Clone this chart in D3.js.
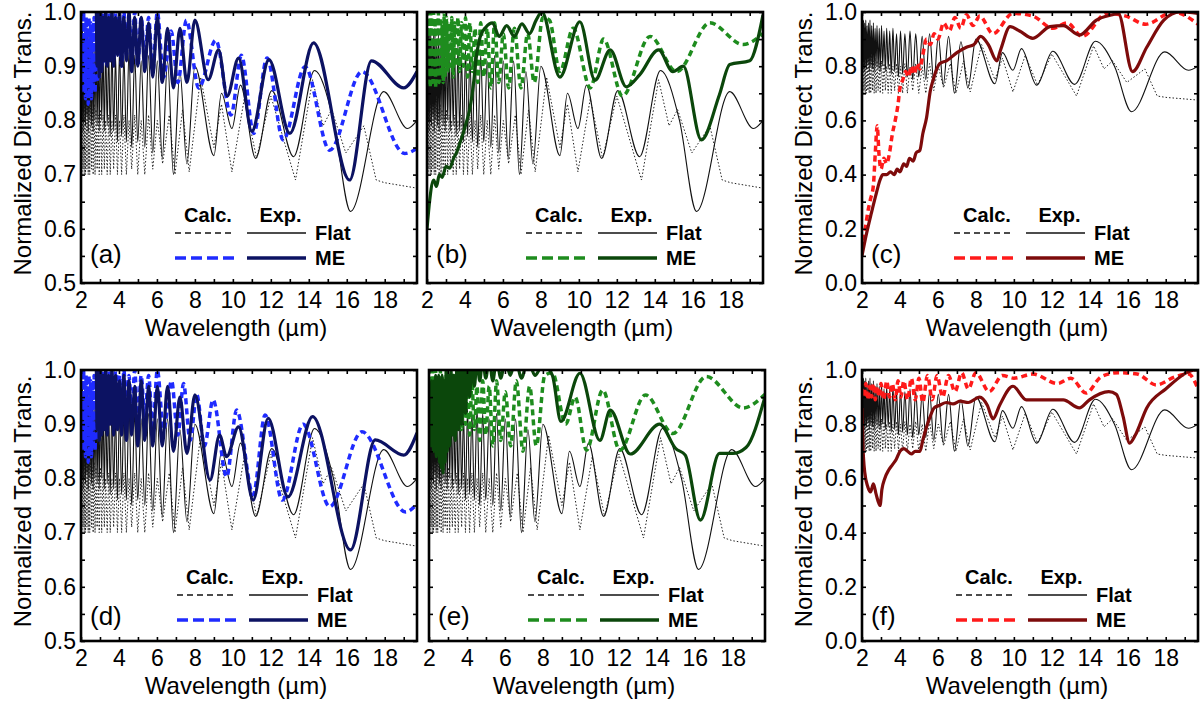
<!DOCTYPE html>
<html><head><meta charset="utf-8">
<script src="https://cdn.jsdelivr.net/npm/d3@7"></script>
<style>
body{margin:0;background:#fff;}
svg{display:block;font-family:Arial,"Liberation Sans",sans-serif;}
</style>
</head><body><svg id="c" width="1202" height="704"></svg>
<script>
// ---------------- DATA ----------------
const xTickLabels = [2,4,6,8,10,12,14,16,18];
const xTicks = [2,3,4,5,6,7,8,9,10,11,12,13,14,15,16,17,18,19];
const yLabelsHalf = [0.5,0.6,0.7,0.8,0.9,1.0];
const yTicksHalf = [0.5,0.55,0.6,0.65,0.7,0.75,0.8,0.85,0.9,0.95,1.0];
const yLabelsFull = [0,0.2,0.4,0.6,0.8,1.0];
const yTicksFull = [0,0.1,0.2,0.3,0.4,0.5,0.6,0.7,0.8,0.9,1.0];

// wavelengths (µm) of the interference fringe extrema read in the 2–8 µm region
const fringeL = [2.02,2.05,2.08,2.11,2.14,2.17,2.20,2.24,2.27,2.31,2.35,2.38,2.42,2.46,2.51,2.55,2.60,2.64,2.69,2.74,
  2.79,2.85,2.91,2.96,3.03,3.09,3.16,3.23,3.30,3.38,3.46,3.54,3.63,3.72,3.82,3.92,4.03,4.14,4.26,4.39,
  4.53,4.67,4.83,4.99,5.17,5.36,5.56,5.78,6.02,6.28,6.56,6.87,7.21,7.58,8.00];

// Flat, experiment (black solid) – shared by all panels
const flatExpHead = [[2.0,0.90]];
const flatExpFringe = [0.98,0.80,0.97,0.78,0.96,0.80,0.97,0.79,0.95,0.81,
  0.96,0.78,0.97,0.80,0.95,0.79,0.96,0.78,0.94,0.80,
  0.95,0.79,0.94,0.78,0.95,0.80,0.93,0.78,0.94,0.79,
  0.93,0.77,0.94,0.78,0.92,0.76,0.93,0.77,0.92,0.76,
  0.93,0.75,0.92,0.76,0.91,0.75,0.92,0.74,0.91,0.73,
  0.91,0.70,0.89,0.72,0.90];
const flatExpTail = [[9.0,0.735],[9.4,0.85],[9.95,0.785],[10.4,0.865],[11.2,0.73],[12.05,0.855],[13.2,0.733],
  [14.3,0.892],[15.3,0.80],[16.2,0.632],[17.95,0.853],[19.2,0.785],[19.7,0.80]];

// Flat, calculation (black dotted) – shared by all panels
const flatCalcHead = [[2.0,0.80]];
const flatCalcFringe = [0.86,0.70,0.85,0.71,0.86,0.70,0.84,0.70,0.85,0.71,
  0.84,0.70,0.83,0.70,0.84,0.71,0.82,0.70,0.83,0.70,
  0.82,0.71,0.81,0.70,0.82,0.70,0.81,0.71,0.80,0.70,
  0.81,0.70,0.80,0.71,0.81,0.70,0.80,0.70,0.81,0.70,
  0.80,0.71,0.81,0.70,0.80,0.70,0.81,0.71,0.80];
const flatCalcTail = [[6.3,0.72],[6.65,0.81],[6.95,0.70],[7.35,0.82],[7.7,0.705],[8.3,0.88],[9.0,0.75],[9.4,0.83],
  [9.95,0.705],[10.6,0.84],[11.25,0.73],[12.0,0.845],[13.3,0.69],[14.2,0.875],[14.75,0.79],[15.2,0.82],
  [15.95,0.74],[16.9,0.79],[17.55,0.69],[18.0,0.685],[19.7,0.675]];

// (a) ME direct, experiment (navy)
const meExpAFringe = [1.03,1.03,1.03,1.03,1.03,1.03,1.03,1.03,1.03,1.03,
  1.03,1.03,1.03,1.03,1.03,1.03,1.03,1.03,1.03,1.03,1.03,
  0.90,1.0,0.88,1.01,0.89,0.99,0.91,1.0,0.90,0.99,0.91,1.0,0.90,0.99,0.92,1.0,0.90,0.99,0.91,1.0,
  0.89,0.99,0.90,0.99,0.89,0.98,0.88,0.99,0.87,0.97,0.86,0.97,0.87,0.985];
const meExpATail = [[8.7,0.875],[9.25,0.93],[9.7,0.845],[10.3,0.915],[11.0,0.78],[11.9,0.912],[13.0,0.776],
  [14.25,0.943],[16.15,0.69],[17.3,0.91],[19.0,0.86],[19.7,0.89]];

// (a),(d) ME calculation (blue) – fringe region
const blueCalcHead = [[2.0,0.95]];
const blueCalcFringe = [1.0,0.88,0.99,0.85,1.0,0.87,0.98,0.84,0.99,0.86,
  0.97,0.83,0.99,0.85,0.98,0.84,0.97,0.86,0.99,0.85,
  0.98,0.87,1.0,0.88,0.99,0.90,1.0,0.91,0.99,0.90,
  1.0,0.92,0.99,0.91,1.0,0.92,0.99,0.90,1.0,0.92,
  0.99,0.91,1.0,0.90,0.99,0.91,0.99,0.89,1.0];
const meCalcATail = [[6.35,0.88],[6.75,0.965],[7.1,0.87],[7.55,0.985],[8.2,0.86],[9.1,0.948],[9.9,0.81],
  [10.45,0.92],[11.1,0.776],[11.8,0.915],[12.65,0.764],[13.8,0.899],[15.1,0.745],[16.8,0.89],[19.05,0.739],[19.7,0.748]];

// (b),(e) ME calculation (green) – fringe region
const greenCalcHead = [[2.0,0.92]];
const greenCalcFringe = [0.99,0.87,1.0,0.88,0.98,0.86,1.0,0.89,0.99,0.87,
  1.0,0.88,0.98,0.86,0.99,0.88,1.0,0.87,0.99,0.89,
  0.98,0.87,1.0,0.88,0.99,0.89,0.98,0.90,0.99,0.88,
  0.98,0.90,0.99,0.89,0.98,0.90,0.99,0.88,0.98,0.89,
  0.97,0.87,0.98,0.88,0.97,0.86,0.98,0.87,0.96];
const meCalcBTail = [[6.3,0.86],[6.6,0.97],[6.95,0.86],[7.3,0.96],[7.65,0.87],[8.1,0.99],[8.45,0.985],[9.0,0.89],
  [9.7,0.97],[10.6,0.86],[11.3,0.95],[12.3,0.845],[13.75,0.955],[15.15,0.89],[16.9,0.98],[18.65,0.94],[19.7,0.96]];

// (b) ME direct, experiment (dark green)
const meExpB = [[2.0,0.60],[2.15,0.655],[2.35,0.69],[2.5,0.678],[2.65,0.70],[2.8,0.695],[3.0,0.715],[3.2,0.712],
  [3.4,0.73],[3.55,0.74],[3.75,0.76],[3.9,0.776],[4.1,0.80],[4.25,0.82],[4.45,0.868],[4.6,0.917],[4.8,0.954],
  [5.1,0.972],[5.45,0.98],[5.8,0.955],[6.2,0.975],[6.6,0.955],[7.0,0.978],[7.4,0.96],[7.75,0.985],[8.05,1.0],
  [9.0,0.88],[10.05,0.982],[10.85,0.874],[11.65,0.93],[12.5,0.862],[13.2,0.884],[14.2,0.93],[14.95,0.89],
  [15.5,0.90],[16.45,0.764],[17.4,0.847],[17.95,0.903],[19.0,0.91],[19.7,0.995]];

// (c) ME direct, calculation (red) and experiment (dark red)
const meCalcC = [[2.0,0.12],[2.15,0.19],[2.3,0.26],[2.45,0.31],[2.6,0.36],[2.7,0.48],[2.8,0.58],[2.9,0.47],
  [3.0,0.42],[3.15,0.46],[3.3,0.44],[3.45,0.48],[3.6,0.55],[3.75,0.60],[3.9,0.66],[4.0,0.72],[4.15,0.75],
  [4.3,0.78],[4.45,0.76],[4.6,0.80],[4.75,0.77],[4.9,0.81],[5.05,0.79],[5.2,0.84],[5.4,0.90],[5.6,0.88],
  [5.8,0.92],[6.0,0.90],[6.3,0.96],[6.6,0.93],[6.9,0.98],[7.2,0.94],[7.5,0.99],[7.85,0.95],[8.2,0.985],
  [8.9,0.92],[9.95,0.995],[11.0,0.985],[12.05,0.94],[12.8,0.96],[13.6,0.91],[14.9,0.995],[15.9,0.985],
  [16.95,0.955],[18.4,1.0],[19.7,0.955]];
const meExpC = [[2.0,0.10],[2.2,0.17],[2.5,0.26],[2.75,0.33],[2.95,0.38],[3.1,0.40],[3.3,0.40],[3.5,0.41],
  [3.7,0.40],[3.85,0.42],[4.0,0.41],[4.2,0.44],[4.35,0.43],[4.5,0.46],[4.7,0.45],[4.85,0.48],[5.05,0.49],
  [5.2,0.55],[5.4,0.61],[5.6,0.71],[5.75,0.75],[6.1,0.81],[6.45,0.82],[7.0,0.85],[7.5,0.87],[7.9,0.88],
  [8.25,0.91],[8.65,0.88],[9.1,0.82],[9.3,0.86],[9.8,0.946],[10.3,0.93],[11.0,0.903],[11.9,0.946],
  [12.6,0.95],[13.45,0.915],[14.35,0.97],[15.2,0.99],[15.5,0.995],[16.25,0.78],[17.0,0.87],[17.9,0.97],
  [18.75,1.0],[19.7,0.995]];

// (d) ME total, experiment (navy) and calculation tail (blue)
const meExpDFringe = [1.03,1.03,1.03,1.03,1.03,1.03,1.03,1.03,1.03,1.03,
  1.03,1.03,1.03,1.03,1.03,1.03,1.03,1.03,1.03,1.03,1.03,
  0.89,1.0,0.87,1.0,0.88,0.99,0.89,1.0,0.88,0.99,0.90,1.0,0.88,0.99,0.89,0.98,0.88,0.99,0.87,0.98,
  0.88,0.97,0.86,0.98,0.87,0.97,0.86,0.97,0.86,0.97,0.85,0.95,0.846,0.954];
const meExpDTail = [[8.8,0.797],[9.3,0.88],[9.67,0.84],[10.3,0.895],[11.07,0.76],[11.86,0.911],[12.9,0.766],
  [14.2,0.914],[16.2,0.668],[17.5,0.871],[19.0,0.843],[19.7,0.884]];
const meCalcDTail = [[6.35,0.89],[6.77,0.98],[7.1,0.88],[7.4,0.975],[7.75,0.87],[8.1,0.955],[8.5,0.86],
  [8.96,0.945],[9.67,0.803],[10.2,0.926],[11.07,0.77],[11.7,0.917],[12.6,0.76],[13.7,0.90],[15.1,0.748],
  [16.8,0.886],[19.1,0.738],[19.7,0.753]];

// (e) ME total, experiment (dark green) and calculation tail (green)
const meExpEHead = [[2.0,0.90]];
const meExpEFringe = [0.96,0.88,0.97,0.86,0.98,0.87,0.97,0.85,0.98,0.86,
  0.99,0.84,0.98,0.85,0.99,0.83,0.98,0.82,0.99,0.81,
  0.98,0.83,1.0,0.85,0.99,0.86,1.0,0.88,0.99,0.87,
  1.0,0.89,1.0,0.90,1.01,0.92,1.01,0.95,1.02,0.97,
  1.02,0.98,1.02,0.985,1.02,0.98,1.02,0.985,1.02,0.99,
  1.02,0.985,1.02,0.99,1.01];
const meExpETail = [[8.5,0.99],[8.95,0.905],[9.95,0.994],[11.0,0.87],[11.55,0.926],[12.6,0.845],[14.15,0.90],
  [15.0,0.855],[15.5,0.843],[16.3,0.723],[17.3,0.846],[18.0,0.846],[18.7,0.857],[19.7,0.951]];
const meCalcETail = [[6.3,0.86],[6.6,0.98],[6.95,0.85],[7.3,0.97],[7.65,0.86],[8.1,0.99],[8.5,0.995],[9.2,0.90],
  [9.7,0.95],[10.3,0.852],[11.15,0.963],[12.05,0.852],[13.4,0.954],[14.85,0.883],[16.6,0.988],[18.55,0.93],[19.7,0.955]];

// (f) ME total, calculation (red) and experiment (dark red)
const meCalcF = [[2.0,0.93],[2.1,0.90],[2.2,0.95],[2.3,0.89],[2.4,0.94],[2.5,0.90],[2.6,0.95],[2.7,0.89],
  [2.8,0.94],[2.9,0.90],[3.0,0.95],[3.15,0.89],[3.3,0.96],[3.45,0.90],[3.6,0.95],[3.75,0.89],[3.9,0.96],
  [4.05,0.90],[4.2,0.96],[4.4,0.89],[4.6,0.97],[4.8,0.89],[5.0,0.97],[5.2,0.88],[5.45,0.98],[5.7,0.89],
  [5.95,0.98],[6.25,0.90],[6.55,0.98],[6.9,0.92],[7.25,0.99],[7.6,0.93],[8.0,0.99],[8.7,0.92],[9.4,0.98],
  [10.0,0.97],[11.0,0.985],[12.3,0.95],[13.0,0.97],[13.8,0.915],[14.6,0.975],[15.5,0.99],[16.5,0.985],
  [17.5,0.945],[18.5,0.975],[19.2,0.985],[19.7,0.93]];
const meExpF = [[2.0,0.86],[2.05,0.72],[2.15,0.62],[2.3,0.57],[2.45,0.55],[2.6,0.58],[2.75,0.54],[2.95,0.50],
  [3.05,0.56],[3.2,0.60],[3.4,0.63],[3.6,0.65],[3.8,0.67],[4.0,0.70],[4.2,0.71],[4.4,0.70],[4.6,0.69],
  [4.8,0.70],[5.05,0.70],[5.2,0.74],[5.4,0.79],[5.6,0.83],[5.8,0.86],[6.1,0.87],[6.45,0.88],[6.8,0.875],
  [7.16,0.885],[7.6,0.88],[8.2,0.90],[8.6,0.87],[8.9,0.82],[9.25,0.87],[9.95,0.94],[10.66,0.89],[11.7,0.89],
  [12.6,0.89],[13.45,0.86],[13.98,0.89],[15.0,0.92],[15.4,0.91],[15.75,0.83],[16.1,0.73],[16.4,0.76],
  [17.0,0.86],[18.0,0.93],[19.6,1.0],[19.7,1.0]];

// ---------------- BUILD SERIES ----------------
const withFringe = (head, vals, tail) => head.concat(d3.zip(fringeL.slice(0, vals.length), vals), tail);
const flatExp = withFringe(flatExpHead, flatExpFringe, flatExpTail);
const flatCalc = withFringe(flatCalcHead, flatCalcFringe, flatCalcTail);
const meExpA = withFringe([], meExpAFringe, meExpATail);
const meCalcA = withFringe(blueCalcHead, blueCalcFringe, meCalcATail);
const meCalcB = withFringe(greenCalcHead, greenCalcFringe, meCalcBTail);
const meExpD = withFringe([], meExpDFringe, meExpDTail);
const meCalcD = withFringe(blueCalcHead, blueCalcFringe, meCalcDTail);
const meExpE = withFringe(meExpEHead, meExpEFringe, meExpETail);
const meCalcE = withFringe(greenCalcHead, greenCalcFringe, meCalcETail);

// ---------------- STYLE / LAYOUT ----------------
const W = 336, H = 271;
const X_DOMAIN = [2, 19.7];
const COL = {blue:'#1f2bff', navy:'#0c1262', green:'#1e8c1e', dgreen:'#0b470b', red:'#ff1a1a', dred:'#7d0b0b'};
const FONT = 'Arial,"Liberation Sans",sans-serif';

const panels = [
  {lab:'(a)', left:81,  top:12,  full:false, title:'Normalized Direct Trans.', showY:true,  calc:meCalcA, exp:meExpA, cc:COL.blue,  ec:COL.navy,  ldx:0, ldy:0},
  {lab:'(b)', left:427, top:12,  full:false, title:null,                        showY:false, calc:meCalcB, exp:meExpB, cc:COL.green, ec:COL.dgreen, ldx:5, ldy:0},
  {lab:'(c)', left:862, top:12,  full:true,  title:'Normalized Direct Trans.', showY:true,  calc:meCalcC, exp:meExpC, cc:COL.red,   ec:COL.dred,  ldx:-2, ldy:0},
  {lab:'(d)', left:81,  top:370, full:false, title:'Normalized Total Trans.',  showY:true,  calc:meCalcD, exp:meExpD, cc:COL.blue,  ec:COL.navy,  ldx:2, ldy:4},
  {lab:'(e)', left:429, top:370, full:false, title:null,                        showY:false, calc:meCalcE, exp:meExpE, cc:COL.green, ec:COL.dgreen, ldx:5, ldy:4},
  {lab:'(f)', left:862, top:370, full:true,  title:'Normalized Total Trans.',  showY:true,  calc:meCalcF, exp:meExpF, cc:COL.red,   ec:COL.dred,  ldx:0, ldy:4}
];

const svg = d3.select('#c');

panels.forEach((p, i) => {
  const g = svg.append('g').attr('transform', `translate(${p.left},${p.top})`);
  const x = d3.scaleLinear().domain(X_DOMAIN).range([0, W]);
  const y = d3.scaleLinear().domain(p.full ? [0, 1] : [0.5, 1]).range([H, 0]);
  const cid = 'clip' + i;
  g.append('clipPath').attr('id', cid).append('rect').attr('width', W).attr('height', H);
  const plot = g.append('g').attr('clip-path', `url(#${cid})`);
  const line = d3.line().x(d => x(d[0])).y(d => y(d[1])).curve(d3.curveMonotoneX);
  const lineLin = d3.line().x(d => x(d[0])).y(d => y(d[1]));

  plot.append('path').attr('d', lineLin(flatCalc)).attr('fill', 'none').attr('stroke', '#222')
    .attr('stroke-width', 1).attr('stroke-dasharray', '1.5,2');
  plot.append('path').attr('d', line(flatExp)).attr('fill', 'none').attr('stroke', '#111')
    .attr('stroke-width', 1.1);
  plot.append('path').attr('d', line(p.calc)).attr('fill', 'none').attr('stroke', p.cc)
    .attr('stroke-width', 3.5).attr('stroke-dasharray', '6,4');
  plot.append('path').attr('d', line(p.exp)).attr('fill', 'none').attr('stroke', p.ec)
    .attr('stroke-width', 3.2).attr('stroke-linejoin', 'round');

  // ticks (inward, all four sides)
  const tl = 4;
  const xt = xTicks, yt = p.full ? yTicksFull : yTicksHalf;
  const clean = s => { s.select('.domain').remove(); s.selectAll('line').attr('stroke', '#000').attr('stroke-width', 1.6); };
  g.append('g').attr('transform', `translate(0,${H})`).call(d3.axisBottom(x).tickValues(xt).tickSize(-tl).tickFormat('')).call(clean);
  g.append('g').call(d3.axisTop(x).tickValues(xt).tickSize(-tl).tickFormat('')).call(clean);
  g.append('g').call(d3.axisLeft(y).tickValues(yt).tickSize(-tl).tickFormat('')).call(clean);
  g.append('g').attr('transform', `translate(${W},0)`).call(d3.axisRight(y).tickValues(yt).tickSize(-tl).tickFormat('')).call(clean);

  // tick labels
  const xl = g.append('g').attr('transform', `translate(0,${H})`)
    .call(d3.axisBottom(x).tickValues(xTickLabels).tickSize(0).tickPadding(9).tickFormat(d3.format('d')));
  xl.select('.domain').remove();
  xl.selectAll('text').attr('font-size', 23).attr('fill', '#000').attr('font-family', FONT);
  if (p.showY) {
    const yl = g.append('g')
      .call(d3.axisLeft(y).tickValues(p.full ? yLabelsFull : yLabelsHalf).tickSize(0).tickPadding(5).tickFormat(d3.format('.1f')));
    yl.select('.domain').remove();
    yl.selectAll('text').attr('font-size', 23).attr('fill', '#000').attr('font-family', FONT);
    g.append('text').attr('transform', `translate(-50,${H / 2 - 4}) rotate(-90)`)
      .attr('text-anchor', 'middle').attr('font-size', 24).text(p.title);
  }
  g.append('text').attr('x', W / 2 - 13).attr('y', H + 53).attr('text-anchor', 'middle')
    .attr('font-size', 24).text('Wavelength (µm)');

  // frame
  g.append('rect').attr('width', W).attr('height', H).attr('fill', 'none')
    .attr('stroke', '#000').attr('stroke-width', 2.6);

  // panel label
  g.append('text').attr('x', 9).attr('y', 251 + p.ldy).attr('font-size', 26).text(p.lab);

  // legend
  const L = g.append('g').attr('transform', `translate(${p.ldx},${p.ldy})`);
  const c0 = 94, c1 = 154, e0 = 166, e1 = 225;
  L.append('text').attr('x', (c0 + c1) / 2 + 3).attr('y', 210).attr('text-anchor', 'middle')
    .attr('font-size', 20).attr('font-weight', 'bold').text('Calc.');
  L.append('text').attr('x', (e0 + e1) / 2 + 4).attr('y', 210).attr('text-anchor', 'middle')
    .attr('font-size', 20).attr('font-weight', 'bold').text('Exp.');
  L.append('line').attr('x1', c0).attr('x2', c1).attr('y1', 221).attr('y2', 221)
    .attr('stroke', '#111').attr('stroke-width', 1.6).attr('stroke-dasharray', '6,4');
  L.append('line').attr('x1', e0).attr('x2', e1).attr('y1', 221).attr('y2', 221)
    .attr('stroke', '#111').attr('stroke-width', 1.6);
  L.append('text').attr('x', 234).attr('y', 228).attr('font-size', 20).attr('font-weight', 'bold').text('Flat');
  L.append('line').attr('x1', c0).attr('x2', c1).attr('y1', 246).attr('y2', 246)
    .attr('stroke', p.cc).attr('stroke-width', 3.5).attr('stroke-dasharray', '11,5');
  L.append('line').attr('x1', e0).attr('x2', e1).attr('y1', 246).attr('y2', 246)
    .attr('stroke', p.ec).attr('stroke-width', 3.5);
  L.append('text').attr('x', 234).attr('y', 253).attr('font-size', 20).attr('font-weight', 'bold').text('ME');
});
</script></body></html>
